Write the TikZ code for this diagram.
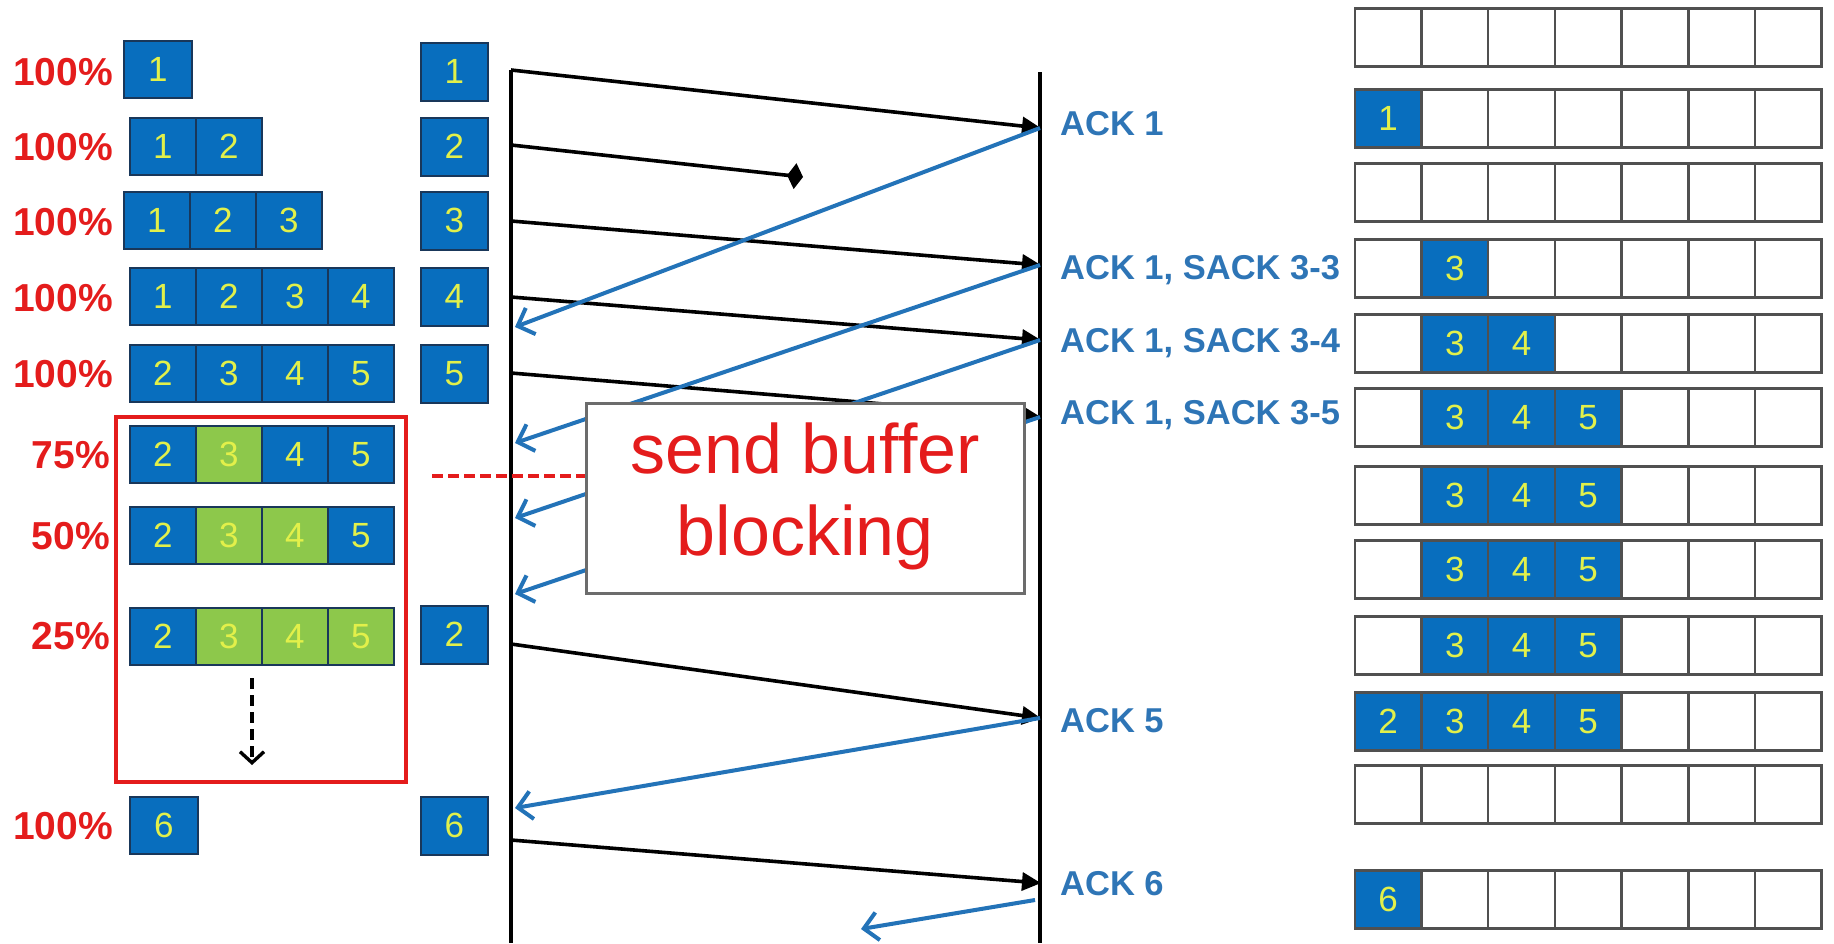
\documentclass[tikz,border=0pt]{standalone}
\usepackage{fontspec}
\setmainfont{Liberation Sans}
\usetikzlibrary{arrows.meta}

\definecolor{boxblue}{RGB}{8,110,190}
\definecolor{boxedge}{RGB}{25,55,90}
\definecolor{numyellow}{RGB}{226,240,74}
\definecolor{pktgreen}{RGB}{141,200,75}
\definecolor{ackblue}{RGB}{46,117,182}
\definecolor{lineblue}{RGB}{35,115,184}
\definecolor{alertred}{RGB}{228,28,28}
\definecolor{celledge}{RGB}{80,80,80}

\tikzset{
  pkt/.style={draw=boxedge, line width=1.5pt, fill=boxblue, anchor=north west,
    minimum width=66pt, minimum height=57pt, inner sep=0pt,
    text=numyellow, font=\fontsize{35}{35}\selectfont},
  gpkt/.style={pkt, fill=pktgreen},
  slot/.style={draw=celledge, line width=2.5pt, fill=white, anchor=north west,
    minimum width=66.7pt, minimum height=58pt, inner sep=0pt},
  rpkt/.style={pkt, draw=celledge, line width=2.5pt, minimum width=66.7pt, minimum height=58pt},
  pct/.style={anchor=east, text=alertred, inner sep=0pt,
    font=\fontsize{39}{39}\selectfont\bfseries, text height=28pt, text depth=0pt},
  acklabel/.style={anchor=west, text=ackblue, inner sep=0pt,
    font=\fontsize{34.5}{34.5}\selectfont\bfseries, text height=24.7pt, text depth=0pt},
  timeline/.style={line width=4.2pt, black},
  sendarrow/.style={line width=3.6pt, black, -{Triangle[length=19pt,width=18pt]}, shorten >=-1pt},
  ackarrow/.style={line width=4pt, lineblue, -{Straight Barb[length=14pt,width=28pt,line width=4pt]}},
}

\begin{document}
\begin{tikzpicture}[x=1pt,y=-1pt]
\useasboundingbox (0,0) rectangle (1834,943);

% ---------------- sender window states ----------------
\node[pct] (p1) at (113,71) {100\%};
\node[pkt, minimum width=68pt] (a0) at (123,40) {1};

\node[pct] (p2) at (113,146) {100\%};
\foreach \n [count=\i from 0] in {1,2}
  \node[pkt, name=b\i] at (129+\i*66,117) {\n};

\node[pct] (p3) at (113,221) {100\%};
\foreach \n [count=\i from 0] in {1,2,3}
  \node[pkt, name=c\i] at (123+\i*66,191) {\n};

\node[pct] (p4) at (113,297) {100\%};
\foreach \n [count=\i from 0] in {1,2,3,4}
  \node[pkt, name=d\i] at (129+\i*66,267) {\n};

\node[pct] (p5) at (113,373) {100\%};
\foreach \n [count=\i from 0] in {2,3,4,5}
  \node[pkt, name=e\i] at (129+\i*66,344) {\n};

\node[pct] (p6) at (110,454) {75\%};
\foreach \n/\s [count=\i from 0] in {2/pkt,3/gpkt,4/pkt,5/pkt}
  \node[\s, name=f\i] at (129+\i*66,425) {\n};

\node[pct] (p7) at (110,535) {50\%};
\foreach \n/\s [count=\i from 0] in {2/pkt,3/gpkt,4/gpkt,5/pkt}
  \node[\s, name=g\i] at (129+\i*66,506) {\n};

\node[pct] (p8) at (110,635) {25\%};
\foreach \n/\s [count=\i from 0] in {2/pkt,3/gpkt,4/gpkt,5/gpkt}
  \node[\s, name=h\i] at (129+\i*66,607) {\n};

\node[pct] (p9) at (113,825) {100\%};
\node[pkt, minimum width=68pt] (i0) at (129,796) {6};

% blocked interval
\node[draw=alertred, line width=3.5pt, anchor=north west, minimum width=290pt,
  minimum height=365pt, inner sep=0pt] (blockframe) at (114,415) {};
\coordinate (waitA) at (252,678);
\coordinate (waitB) at (252,765);
\draw[line width=3.4pt, dash pattern=on 11pt off 6pt,
  -{Straight Barb[length=11pt,width=24pt,line width=3.4pt]}] (waitA) -- (waitB);

% ---------------- segments handed to the wire ----------------
\foreach \n/\y [count=\i] in {1/42,2/117,3/191,4/267,5/344,2/605,6/796}
  \node[pkt, minimum width=67pt, minimum height=58pt, name=m\i] at (420,\y) {\n};

% ---------------- timelines ----------------
\coordinate (sTop) at (511,70);
\coordinate (sBot) at (511,943);
\coordinate (rTop) at (1040,72);
\coordinate (rBot) at (1040,943);
\draw[timeline] (sTop) -- (sBot);
\draw[timeline] (rTop) -- (rBot);

% send instants and arrival instants
\coordinate (s1) at (511,70);   \coordinate (r1) at (1040,128);
\coordinate (s2) at (511,145);  \coordinate (lost) at (803,177);
\coordinate (s3) at (511,221);  \coordinate (r3) at (1040,265);
\coordinate (s4) at (511,297);  \coordinate (r4) at (1040,340);
\coordinate (s5) at (511,373);  \coordinate (r5) at (1040,417);
\coordinate (s6) at (511,644);  \coordinate (r6) at (1040,718);
\coordinate (s7) at (511,840);  \coordinate (r7) at (1040,883);

% ack arrival instants at the sender
\coordinate (k1) at (515,327);
\coordinate (k3) at (515,443);
\coordinate (k4) at (515,518);
\coordinate (k5) at (515,594);
\coordinate (k6) at (515,808);
\coordinate (k7s) at (1035,900);
\coordinate (k7e) at (861,929);

% data segments
\draw[sendarrow] (s1) -- (r1);
\draw[line width=3.6pt, black, -{Diamond[length=16pt,width=26pt]}] (s2) -- (lost);
\draw[sendarrow] (s3) -- (r3);
\draw[sendarrow] (s4) -- (r4);
\draw[sendarrow] (s5) -- (r5);
\draw[sendarrow] (s6) -- (r6);
\draw[sendarrow] (s7) -- (r7);

% acknowledgements
\draw[ackarrow] (r1) -- (k1);
\draw[ackarrow] (r3) -- (k3);
\draw[ackarrow] (r4) -- (k4);
\draw[ackarrow] (r5) -- (k5);
\draw[ackarrow] (r6) -- (k6);
\draw[ackarrow] (k7s) -- (k7e);

% stall marker and callout
\coordinate (stallA) at (432,476);
\coordinate (stallB) at (586,476);
\draw[alertred, line width=3.8pt, dash pattern=on 11pt off 5pt] (stallA) -- (stallB);
\node[draw=gray!85!black, line width=2.5pt, fill=white, anchor=north west,
  minimum width=438pt, minimum height=190pt, inner sep=0pt] (callout) at (585,402) {};
\node[text=alertred, align=center, font=\fontsize{70}{82}\selectfont] (calltext)
  at ([yshift=2pt]callout.center) {send buffer\\blocking};

% ---------------- receiver labels ----------------
\node[acklabel] (l1) at (1060,123) {ACK 1};
\node[acklabel] (l3) at (1060,267) {ACK 1, SACK 3-3};
\node[acklabel] (l4) at (1060,340) {ACK 1, SACK 3-4};
\node[acklabel] (l5) at (1060,412) {ACK 1, SACK 3-5};
\node[acklabel] (l6) at (1060,720) {ACK 5};
\node[acklabel] (l7) at (1060,883) {ACK 6};

% ---------------- receiver buffer states ----------------
\foreach \y [count=\r] in {7,88,162,238,313,387,465,539,615,691,764,869}
  \foreach \c in {0,...,6}
    \node[slot, name=q\r-\c] at (1353.5+\c*66.7,\y) {};

\node[rpkt] (u2) at (1353.5,88) {1};
\node[rpkt] (u4) at (1420.2,238) {3};
\foreach \n [count=\i] in {3,4}
  \node[rpkt, name=u5-\i] at (1353.5+\i*66.7,313) {\n};
\foreach \y [count=\r from 6] in {387,465,539,615}
  \foreach \n [count=\i] in {3,4,5}
    \node[rpkt, name=u\r-\i] at (1353.5+\i*66.7,\y) {\n};
\foreach \n [count=\i from 0] in {2,3,4,5}
  \node[rpkt, name=u10-\i] at (1353.5+\i*66.7,691) {\n};
\node[rpkt] (u12) at (1353.5,869) {6};

\end{tikzpicture}
\end{document}
